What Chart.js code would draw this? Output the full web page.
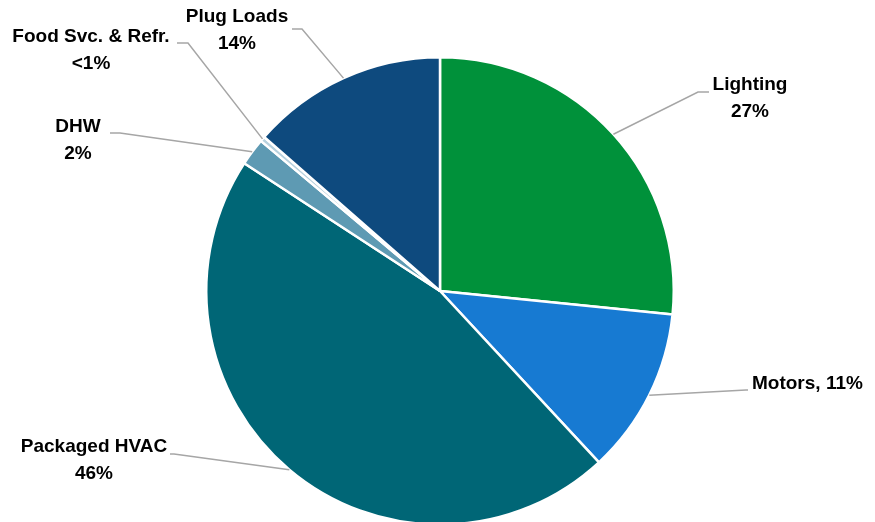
<!DOCTYPE html>
<html>
<head>
<meta charset="utf-8">
<script src="https://cdn.jsdelivr.net/npm/chart.js@4/dist/chart.umd.min.js"></script>
<style>
  html, body { margin: 0; padding: 0; background: #fff; overflow: hidden; }
  #wrap { width: 875px; height: 522px; overflow: hidden; }
</style>
</head>
<body>
<div id="wrap"><canvas id="pie" width="875" height="540"></canvas></div>
<script>
// data (clockwise from 12 o'clock)
const categories = ['Lighting', 'Motors', 'Packaged HVAC', 'DHW', 'Food Svc. & Refr.', 'Plug Loads'];
const shares = [26.6, 11.5, 46.1, 1.9, 0.35, 13.55];
const shareLabels = ['27%', '11%', '46%', '2%', '<1%', '14%'];
const sliceColors = ['#00913a', '#177ad2', '#006676', '#5e9ab3', '#b7d1de', '#0e4a7e'];

// label placement: text center, leader elbow and end
const labelLayout = [
  { x: 750, y: 85, align: 'center', elbow: [698, 92], end: [709, 92] },
  { x: 752, y: 384, align: 'left', inline: true, elbow: [746, 390], end: [748, 390] },
  { x: 94, y: 447, align: 'center', elbow: [174, 454], end: [170, 454] },
  { x: 78, y: 127, align: 'center', elbow: [120, 133], end: [110, 133] },
  { x: 91, y: 37, align: 'center', elbow: [188, 43], end: [177, 43] },
  { x: 237, y: 17, align: 'center', elbow: [302, 29], end: [292, 29] }
];

const leaderLabels = {
  id: 'leaderLabels',
  afterDatasetsDraw(chart) {
    const ctx = chart.ctx;
    const arcs = chart.getDatasetMeta(0).data;
    ctx.save();
    arcs.forEach((arc, i) => {
      const lay = labelLayout[i];
      const p = arc.getProps(['x', 'y', 'startAngle', 'endAngle', 'outerRadius'], true);
      const mid = (p.startAngle + p.endAngle) / 2;
      const sx = p.x + Math.cos(mid) * p.outerRadius;
      const sy = p.y + Math.sin(mid) * p.outerRadius;
      ctx.strokeStyle = '#a6a6a6';
      ctx.lineWidth = 1.5;
      ctx.beginPath();
      ctx.moveTo(sx, sy);
      ctx.lineTo(lay.elbow[0], lay.elbow[1]);
      ctx.lineTo(lay.end[0], lay.end[1]);
      ctx.stroke();

      const lines = lay.inline
        ? [categories[i] + ', ' + shareLabels[i]]
        : [categories[i], shareLabels[i]];
      ctx.fillStyle = '#000';
      ctx.font = 'bold 19px "Liberation Sans", Arial, sans-serif';
      ctx.textAlign = lay.align;
      ctx.textBaseline = 'middle';
      lines.forEach((t, k) => ctx.fillText(t, lay.x, lay.y + k * 27));
    });
    ctx.restore();
  }
};

new Chart(document.getElementById('pie').getContext('2d'), {
  type: 'pie',
  data: {
    labels: categories,
    datasets: [{
      data: shares,
      backgroundColor: sliceColors,
      borderColor: '#ffffff',
      borderWidth: 2.5,
      hoverOffset: 0
    }]
  },
  options: {
    responsive: false,
    animation: false,
    layout: { padding: { left: 160, right: 155, top: 56, bottom: 14 } },
    plugins: {
      legend: { display: false },
      tooltip: { enabled: false }
    }
  },
  plugins: [leaderLabels]
});
</script>
</body>
</html>
